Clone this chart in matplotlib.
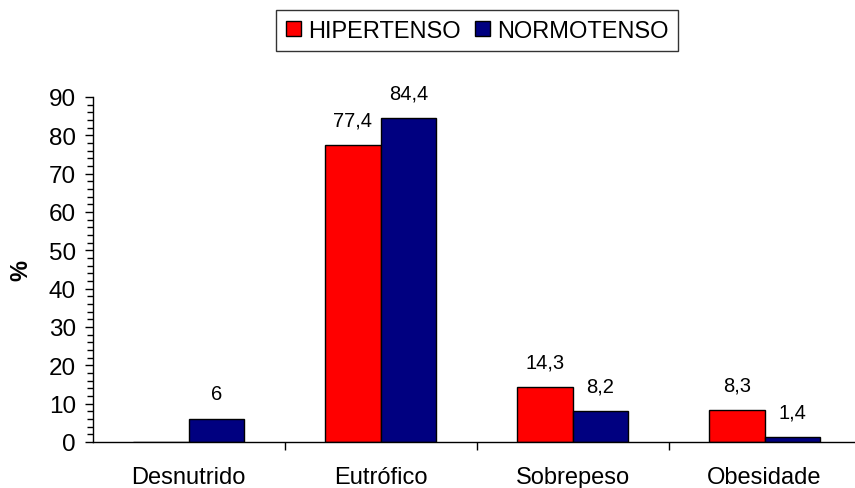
import numpy as np
import matplotlib.pyplot as plt
from matplotlib.ticker import MultipleLocator, FixedLocator

# Estado nutricional por grupo (%)
categorias = ['Desnutrido', 'Eutrófico', 'Sobrepeso', 'Obesidade']
hipertenso = [0, 77.4, 14.3, 8.3]
normotenso = [6, 84.4, 8.2, 1.4]
rotulos_hip = ['', '77,4', '14,3', '8,3']
rotulos_norm = ['6', '84,4', '8,2', '1,4']

plt.rcParams['font.family'] = ['Liberation Sans', 'DejaVu Sans']

fig = plt.figure(figsize=(8.55, 4.89), dpi=100)
ax = fig.add_axes([0.1082, 0.0941, 0.8918, 0.7055])

x = np.arange(len(categorias))
w = 0.289
b1 = ax.bar(x - w / 2, hipertenso, w, color='#FF0000', edgecolor='black',
            linewidth=1, label='HIPERTENSO')
b2 = ax.bar(x + w / 2, normotenso, w, color='#000080', edgecolor='black',
            linewidth=1, label='NORMOTENSO')

# rotulos de valor acima das barras
for barras, rot in ((b1, rotulos_hip), (b2, rotulos_norm)):
    for b, r in zip(barras, rot):
        if not r:
            continue
        ax.annotate(r, (b.get_x() + b.get_width() / 2, b.get_height()),
                    xytext=(0, 18), textcoords='offset points',
                    ha='center', va='center', fontsize=14.5)

ax.set_xlim(-0.5, 3.471)
ax.set_ylim(0, 90)
ax.yaxis.set_major_locator(MultipleLocator(10))
ax.yaxis.set_minor_locator(MultipleLocator(2))
ax.tick_params(axis='y', which='major', length=6, width=1, labelsize=17.5, pad=6)
ax.tick_params(axis='y', which='minor', length=4, width=1)

ax.set_xticks(x)
ax.set_xticklabels(categorias, fontsize=17)
ax.xaxis.set_minor_locator(FixedLocator([0.5, 1.5, 2.5]))
ax.tick_params(axis='x', which='major', length=0, pad=17)
ax.tick_params(axis='x', which='minor', length=6, width=1)

for s in ('top', 'right'):
    ax.spines[s].set_visible(False)
for s in ('left', 'bottom'):
    ax.spines[s].set_linewidth(1)
    ax.spines[s].set_color('black')

ax.set_ylabel('%', fontsize=17, fontweight='bold', labelpad=12)

leg = fig.legend(handles=[b1, b2], loc='center', bbox_to_anchor=(0.558, 0.935),
                 ncol=2, fontsize=17, frameon=True, fancybox=False,
                 handlelength=0.65, handleheight=0.65, handletextpad=0.3,
                 columnspacing=0.6, borderpad=0.4, borderaxespad=0)
leg.get_frame().set_edgecolor('black')
leg.get_frame().set_linewidth(1)

fig.savefig('out.png', dpi=100)
